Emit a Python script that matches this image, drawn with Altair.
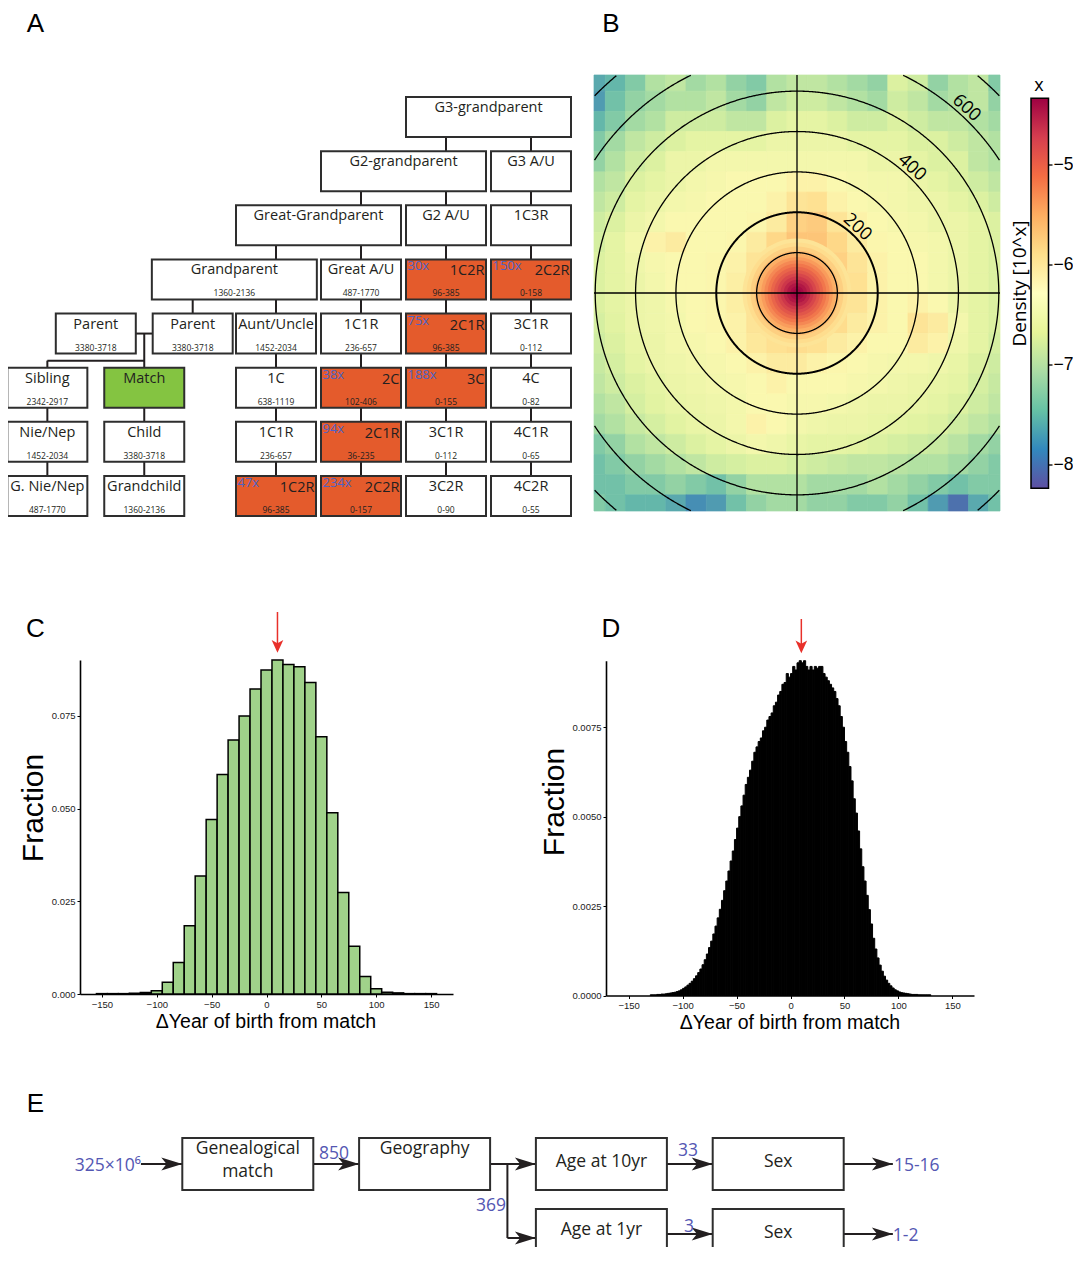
import math
import pandas as pd
import altair as alt

W, H = 1065, 1239
SANS = "Open Sans"
HELV = "Liberation Sans"
INK = "#231f20"
BOXLINE = "#2e2e2e"
BLUE_A = "#4d62c3"
BLUE_E = "#5457b3"
ORANGE = "#e45b2c"
GREEN = "#84c441"
RED = "#e8302a"
BARGREEN = "#a0d28a"
# Vega "spectral" scheme, low -> high after reversing
SPECTRAL_REV = ["#5e4fa2", "#3288bd", "#66c2a5", "#abdda4", "#e6f598", "#ffffbf",
                "#fee08b", "#fdae61", "#f46d43", "#d53e4f", "#9e0142"]

# ======================= Panel A : relationship tree =======================
A_name = ["G3-grandparent", "G2-grandparent", "G3 A/U",
          "Great-Grandparent", "G2 A/U", "1C3R",
          "Grandparent", "Great A/U", "1C2R", "2C2R",
          "Parent", "Parent", "Aunt/Uncle", "1C1R", "2C1R", "3C1R",
          "Sibling", "Match", "1C", "2C", "3C", "4C",
          "Nie/Nep", "Child", "1C1R", "2C1R", "3C1R", "4C1R",
          "G. Nie/Nep", "Grandchild", "1C2R", "2C2R", "3C2R", "4C2R"]
A_range = ["", "", "",
           "", "", "",
           "1360-2136", "487-1770", "96-385", "0-158",
           "3380-3718", "3380-3718", "1452-2034", "236-657", "96-385", "0-112",
           "2342-2917", "", "638-1119", "102-406", "0-155", "0-82",
           "1452-2034", "3380-3718", "236-657", "36-235", "0-112", "0-65",
           "487-1770", "1360-2136", "96-385", "0-157", "0-90", "0-55"]
A_fold = ["", "", "",
          "", "", "",
          "", "", "30x", "150x",
          "", "", "", "", "75x", "",
          "", "", "", "38x", "188x", "",
          "", "", "", "94x", "", "",
          "", "", "47x", "234x", "", ""]
A_row = [0, 1, 1, 2, 2, 2, 3, 3, 3, 3, 4, 4, 4, 4, 4, 4,
         5, 5, 5, 5, 5, 5, 6, 6, 6, 6, 6, 6, 7, 7, 7, 7, 7, 7]
A_col = [2, 1, 3, 0, 2, 3, -0.99, 1, 2, 3, -2.12, -0.98, 0, 1, 2, 3,
         -2.69, -1.55, 0, 1, 2, 3, -2.69, -1.55, 0, 1, 2, 3, -2.69, -1.55, 0, 1, 2, 3]
A_span = [2, 2, 1, 2, 1, 1, 2, 1, 1, 1, 1, 1, 1, 1, 1, 1,
          1, 1, 1, 1, 1, 1, 1, 1, 1, 1, 1, 1, 1, 1, 1, 1, 1, 1]
A_link_row = [0, 0, 1, 1, 1, 2, 2, 2, 2, 3, 3, 3, 3, 3, 4, 4, 4, 4,
              5, 5, 5, 5, 5, 5, 6, 6, 6, 6, 6, 6]
A_link_col = [2, 3, 1, 2, 3, 0, 1, 2, 3, -0.98, 0, 1, 2, 3, 0, 1, 2, 3,
              -2.69, -1.55, 0, 1, 2, 3, -2.69, -1.55, 0, 1, 2, 3]

A_COL_PX, A_ROW_PX = 85.0, 54.14
A_X0, A_Y0 = 228.0, 89.0
gw = 80.0 / A_COL_PX
gh = 40.0 / A_ROW_PX
xA = alt.Scale(domain=[-3, 4], range=[A_X0 - 3 * A_COL_PX, A_X0 + 4 * A_COL_PX])
yA = alt.Scale(domain=[0, 8], range=[A_Y0, A_Y0 + 8 * A_ROW_PX])

a = pd.DataFrame({"name": A_name, "rng": A_range, "fold": A_fold,
                  "row": A_row, "col": A_col, "span": A_span})
a["x1"] = a["col"]
a["x2"] = a["col"] + a["span"] - 1 + gw
a["y1"] = a["row"]
a["y2"] = a["row"] + gh
a["xc"] = (a["x1"] + a["x2"]) / 2
a["fill"] = [GREEN if n == "Match" else (ORANGE if f else "white") for n, f in zip(A_name, A_fold)]

segs = []
for c, r in zip(A_link_col, A_link_row):
    xc = c + gw / 2
    segs.append((xc, r + gh, xc, r + 1))
p1, p2, sib, mat = a.iloc[10], a.iloc[11], a.iloc[16], a.iloc[17]
ym = 4 + gh / 2
yd = (4 + gh + 5) / 2
segs += [(p1.x2, ym, p2.x1, ym), (mat.xc, ym, mat.xc, 5),
         (sib.xc, yd, mat.xc, yd), (sib.xc, yd, sib.xc, 5)]
a_links = pd.DataFrame(segs, columns=["x1", "y1", "x2", "y2"])

def XA(f):
    return alt.X(f + ":Q", scale=xA, axis=None)

def YA(f):
    return alt.Y(f + ":Q", scale=yA, axis=None)

A_layer = alt.layer(
    alt.Chart(a_links).mark_rule(color=INK, strokeWidth=2).encode(
        x=XA("x1"), y=YA("y1"), x2="x2:Q", y2="y2:Q"),
    alt.Chart(a).mark_rect(stroke=BOXLINE, strokeWidth=2).encode(
        x=XA("x1"), x2="x2:Q", y=YA("y1"), y2="y2:Q",
        color=alt.Color("fill:N", scale=None)),
    alt.Chart(a[a["fold"] == ""]).mark_text(font=SANS, fontSize=14.5, dy=15,
                                          baseline="alphabetic", color=INK).encode(
        x=XA("xc"), y=YA("y1"), text="name:N"),
    alt.Chart(a[a["fold"] != ""]).mark_text(font=SANS, fontSize=14.5, dy=16, dx=-1.5, align="right",
                                          baseline="alphabetic", color=INK).encode(
        x=XA("x2"), y=YA("y1"), text="name:N"),
    alt.Chart(a[a["fold"] != ""]).mark_text(font=SANS, fontSize=13, dy=11, dx=1.5, align="left",
                                          baseline="alphabetic", color=BLUE_A).encode(
        x=XA("x1"), y=YA("y1"), text="fold:N"),
    alt.Chart(a[a["rng"] != ""]).mark_text(font=SANS, fontSize=8.5, dy=37,
                                         baseline="alphabetic", color=INK).encode(
        x=XA("xc"), y=YA("y1"), text="rng:N"),
)

# ======================= Panel B : density map =======================
B_cx = [-500, -450, -400, -350, -300, -250, -200, -150, -100, -50, 0,
        50, 100, 150, 200, 250, 300, 350, 400, 450, 500]
B_cy = [525, 475, 425, 375, 325, 275, 225, 175, 125, 75, 25,
        -25, -75, -125, -175, -225, -275, -325, -375, -425, -475, -525]
B_density = [
    [-7.6, -7.5, -7.3, -7.0, -6.9, -7.1, -7.0, -7.2, -7.3, -7.0, -6.9, -6.9, -7.0, -7.1, -7.2, -6.7, -6.8, -7.2, -7.0, -6.9, -7.3],
    [-7.7, -7.4, -7.2, -7.1, -7.0, -7.0, -6.9, -7.1, -7.2, -6.9, -6.8, -6.8, -6.9, -7.0, -7.1, -6.8, -6.9, -7.1, -7.0, -6.9, -7.2],
    [-7.5, -7.3, -7.1, -7.0, -6.8, -6.8, -6.8, -6.9, -6.9, -6.7, -6.6, -6.6, -6.7, -6.8, -6.8, -6.7, -6.8, -6.9, -6.9, -7.0, -7.1],
    [-7.3, -7.1, -6.9, -6.8, -6.7, -6.6, -6.6, -6.6, -6.6, -6.5, -6.5, -6.5, -6.5, -6.6, -6.6, -6.6, -6.7, -6.7, -6.8, -6.9, -7.0],
    [-7.2, -7.0, -6.8, -6.7, -6.5, -6.5, -6.4, -6.4, -6.4, -6.4, -6.4, -6.4, -6.4, -6.4, -6.5, -6.5, -6.6, -6.7, -6.7, -6.9, -7.0],
    [-7.0, -6.9, -6.7, -6.6, -6.5, -6.4, -6.35, -6.3, -6.3, -6.3, -6.2, -6.2, -6.3, -6.35, -6.4, -6.4, -6.5, -6.6, -6.7, -6.8, -6.9],
    [-6.9, -6.8, -6.6, -6.5, -6.4, -6.35, -6.3, -6.3, -6.3, -6.2, -6.0, -5.95, -6.2, -6.3, -6.35, -6.4, -6.45, -6.5, -6.6, -6.7, -6.8],
    [-6.8, -6.7, -6.5, -6.4, -6.3, -6.3, -6.3, -6.3, -6.25, -6.1, -5.8, -5.75, -6.0, -6.2, -6.3, -6.35, -6.4, -6.5, -6.5, -6.6, -6.7],
    [-6.75, -6.6, -6.4, -6.2, -6.1, -6.3, -6.3, -6.25, -6.1, -5.85, -5.7, -5.7, -5.85, -6.1, -6.25, -6.3, -6.35, -6.4, -6.5, -6.6, -6.7],
    [-6.7, -6.6, -6.45, -6.35, -6.3, -6.3, -6.25, -6.2, -6.0, -5.7, -5.6, -5.6, -5.8, -6.0, -6.2, -6.3, -6.3, -6.4, -6.5, -6.6, -6.7],
    [-6.7, -6.6, -6.5, -6.4, -6.3, -6.3, -6.25, -6.15, -5.9, -5.6, -5.5, -5.5, -5.7, -5.95, -6.2, -6.3, -6.3, -6.4, -6.5, -6.6, -6.7],
    [-6.7, -6.6, -6.5, -6.45, -6.35, -6.3, -6.25, -6.15, -5.9, -5.6, -5.5, -5.5, -5.75, -6.0, -6.2, -6.3, -6.2, -6.3, -6.5, -6.6, -6.7],
    [-6.75, -6.65, -6.5, -6.45, -6.4, -6.3, -6.25, -6.2, -6.0, -5.75, -5.6, -5.7, -5.9, -6.1, -6.2, -6.3, -6.0, -6.1, -6.4, -6.6, -6.7],
    [-6.8, -6.7, -6.55, -6.5, -6.4, -6.35, -6.3, -6.2, -6.05, -5.95, -5.9, -5.95, -6.1, -6.2, -6.3, -6.3, -6.1, -6.2, -6.45, -6.6, -6.75],
    [-6.85, -6.75, -6.6, -6.5, -6.45, -6.4, -6.35, -6.3, -6.2, -6.1, -6.1, -6.2, -6.25, -6.3, -6.35, -6.4, -6.4, -6.45, -6.55, -6.7, -6.8],
    [-6.9, -6.8, -6.7, -6.6, -6.5, -6.45, -6.4, -6.35, -6.3, -6.2, -6.3, -6.3, -6.3, -6.35, -6.4, -6.45, -6.5, -6.55, -6.6, -6.75, -6.85],
    [-7.0, -6.9, -6.75, -6.65, -6.55, -6.5, -6.45, -6.4, -6.3, -6.3, -6.35, -6.35, -6.4, -6.45, -6.5, -6.5, -6.55, -6.6, -6.7, -6.8, -6.9],
    [-7.1, -7.0, -6.85, -6.75, -6.65, -6.55, -6.5, -6.4, -6.2, -6.3, -6.4, -6.45, -6.5, -6.5, -6.55, -6.6, -6.65, -6.7, -6.8, -6.9, -7.0],
    [-7.3, -7.2, -7.0, -6.9, -6.8, -6.7, -6.6, -6.5, -6.4, -6.45, -6.55, -6.6, -6.6, -6.65, -6.7, -6.75, -6.8, -6.85, -6.95, -7.1, -7.2],
    [-7.4, -7.3, -7.2, -7.1, -7.0, -6.9, -6.8, -6.75, -6.7, -6.7, -6.75, -6.8, -6.85, -6.9, -6.9, -6.95, -7.0, -7.0, -7.1, -7.2, -7.3],
    [-7.4, -7.4, -7.3, -7.3, -7.2, -7.3, -7.4, -7.2, -7.0, -7.0, -7.0, -7.1, -7.1, -7.1, -7.0, -7.1, -7.2, -7.3, -7.4, -7.3, -7.3],
    [-7.3, -7.4, -7.5, -7.5, -7.6, -7.8, -7.7, -7.4, -7.2, -7.1, -7.1, -7.2, -7.2, -7.3, -7.3, -7.2, -7.4, -7.7, -8.0, -7.6, -7.4],
]
# radial profile of the central peak (radius in years, log10 density)
B_core_r = [135, 125, 115, 105, 97, 89, 81, 73, 65, 57, 49, 41, 33, 25, 17, 10]
B_core_v = [-6.0, -5.9, -5.78, -5.64, -5.52, -5.4, -5.27, -5.15, -5.03, -4.92, -4.8, -4.69, -4.58, -4.48, -4.4, -4.35]
B_ring_r = [100, 200, 300, 400, 500, 600, 700]
B_ring_label = ["200", "400", "600"]
B_cbar_ticks = [-8, -7, -6, -5]
B_cbar_text = ["−8", "−7", "−6", "−5"]
B_cbar_lim = [-8.233, -4.333]

BX0, BX1, BY0, BY1 = -503, 503, -540, 540
xB = alt.Scale(domain=[BX0, BX1], range=[586, 992])
yB = alt.Scale(domain=[BY0, BY1], range=[503, 67])
B_PX = 406.0 / (BX1 - BX0)
cB = alt.Scale(scheme="spectral", reverse=True, domain=B_cbar_lim)

cells = []
for i, cy in enumerate(B_cy):
    assert len(B_density[i]) == len(B_cx)
    for j, cx in enumerate(B_cx):
        cells.append(dict(x1=max(cx - 25, BX0), x2=min(cx + 25, BX1),
                          y1=max(cy - 25, BY0), y2=min(cy + 25, BY1), v=B_density[i][j]))
cells = pd.DataFrame(cells)
core = pd.DataFrame({"r": B_core_r, "v": B_core_v, "x": 0, "y": 0})

ring_pts = []
for r in B_ring_r:
    seg, prev = 0, False
    for k in range(0, 1441):
        t = math.radians(k * 0.25)
        x, y = r * math.cos(t), r * math.sin(t)
        ins = (BX0 <= x <= BX1) and (BY0 <= y <= BY1)
        if ins:
            if not prev:
                seg += 1
            ring_pts.append(dict(r=r, seg=f"{r}-{seg}", k=k, x=x, y=y))
        prev = ins
ring_pts = pd.DataFrame(ring_pts)
cross = pd.DataFrame([dict(x1=0, x2=0, y1=BY0, y2=BY1), dict(x1=BX0, x2=BX1, y1=0, y2=0)])
LAB_ANG = math.radians(47.5)
ring_lab = pd.DataFrame({"t": B_ring_label})
ring_lab["rr"] = ring_lab["t"].astype(float) + 21
ring_lab["x"] = ring_lab["rr"] * math.cos(LAB_ANG)
ring_lab["y"] = ring_lab["rr"] * math.sin(LAB_ANG)

def XB(f):
    return alt.X(f + ":Q", scale=xB, axis=None)

def YB(f):
    return alt.Y(f + ":Q", scale=yB, axis=None)

B_layer = alt.layer(
    alt.Chart(cells).mark_rect(strokeWidth=0.7).encode(
        x=XB("x1"), x2="x2:Q", y=YB("y1"), y2="y2:Q",
        color=alt.Color("v:Q", scale=cB, legend=None),
        stroke=alt.Stroke("v:Q", scale=cB, legend=None)),
    alt.Chart(core).mark_circle(opacity=1).encode(
        x=XB("x"), y=YB("y"),
        size=alt.Size("r:Q", scale=alt.Scale(type="pow", exponent=2, domain=[0, 100],
                                             range=[0, (2 * 100 * B_PX) ** 2]), legend=None),
        color=alt.Color("v:Q", scale=cB, legend=None),
        order=alt.Order("r:Q", sort="descending")),
    alt.Chart(ring_pts[ring_pts["r"] != 200]).mark_line(color="black", strokeWidth=1.3).encode(
        x=XB("x"), y=YB("y"), detail="seg:N", order="k:Q"),
    alt.Chart(ring_pts[ring_pts["r"] == 200]).mark_line(color="black", strokeWidth=2.0).encode(
        x=XB("x"), y=YB("y"), detail="seg:N", order="k:Q"),
    alt.Chart(cross).mark_rule(color="black", strokeWidth=1.3).encode(
        x=XB("x1"), x2="x2:Q", y=YB("y1"), y2="y2:Q"),
    alt.Chart(ring_lab).mark_text(font=SANS, fontSize=18, angle=42.5, baseline="middle",
                                  color="black").encode(x=XB("x"), y=YB("y"), text="t:N"),
)

# colour bar drawn on its own value axis
ycb = alt.Scale(domain=B_cbar_lim, range=[480.3, 90.3])
cbar_grad = alt.LinearGradient(
    gradient="linear", x1=0, y1=1, x2=0, y2=0,
    stops=[alt.GradientStop(color=c, offset=i / (len(SPECTRAL_REV) - 1))
           for i, c in enumerate(SPECTRAL_REV)])
cbar_box = pd.DataFrame({"lo": [B_cbar_lim[0]], "hi": [B_cbar_lim[1]]})
cbar_tk = pd.DataFrame({"t": B_cbar_ticks, "lab": B_cbar_text})
Bbar_layer = alt.layer(
    alt.Chart(cbar_box).mark_rect(fill=cbar_grad, stroke="black", strokeWidth=1.5).encode(
        x=alt.value(1023), x2=alt.value(1040.5),
        y=alt.Y("lo:Q", scale=ycb, axis=None), y2="hi:Q"),
    alt.Chart(cbar_tk).mark_rule(color="black", strokeWidth=1.3).encode(
        x=alt.value(1040.5), x2=alt.value(1044.5),
        y=alt.Y("t:Q", scale=ycb, axis=None)),
    alt.Chart(cbar_tk).mark_text(font=HELV, fontSize=17.5, align="left", baseline="middle",
                                 color="black").encode(
        x=alt.value(1045.5), y=alt.Y("t:Q", scale=ycb, axis=None), text="lab:N"),
)

# ======================= Panel C : 10-year histogram =======================
C_center = [-150, -140, -130, -120, -110, -100, -90, -80, -70, -60, -50, -40, -30, -20, -10,
            0, 10, 20, 30, 40, 50, 60, 70, 80, 90, 100, 110, 120, 130, 140, 150]
C_frac = [0.0001, 0.0001, 0.0001, 0.0002, 0.0004, 0.0009, 0.0032, 0.0085, 0.0184, 0.0318,
          0.0471, 0.0592, 0.0685, 0.0750, 0.0823, 0.0874, 0.0901, 0.0889, 0.0883, 0.0840,
          0.0694, 0.0489, 0.0274, 0.0129, 0.0047, 0.0014, 0.0005, 0.0003, 0.0001, 0.0001, 0.0001]
C_xticks = [-150, -100, -50, 0, 50, 100, 150]
C_yticks = [0, 0.025, 0.05, 0.075]
C_arrow = [10]

xC = alt.Scale(domain=[-170, 170], range=[72, 445])
yC = alt.Scale(domain=[0, 0.0901], range=[986, 652])

def x_axis(off, vals):
    return alt.Axis(orient="bottom", offset=off, values=vals, title=None, grid=False,
                    domainColor="black", domainWidth=1.6, tickColor="black", tickSize=3,
                    tickWidth=1, labelFont=HELV, labelFontSize=9.5, labelColor="#222",
                    labelPadding=2)

def y_axis(off, vals, fmt):
    return alt.Axis(orient="left", offset=off, values=vals, format=fmt, title=None, grid=False,
                    domainColor="black", domainWidth=1.6, tickColor="black", tickSize=3,
                    tickWidth=1, labelFont=HELV, labelFontSize=9.5, labelColor="#222",
                    labelPadding=2)

axCx = x_axis(986 - H, C_xticks)
axCy = y_axis(-72, C_yticks, ".3f")
cdf = pd.DataFrame({"c": C_center, "f": C_frac})
cdf["x1"] = cdf["c"] - 5
cdf["x2"] = cdf["c"] + 5
cdf["y0"] = 0.0

ARROW_DOWN = "M0,1L-0.92,-1L0,-0.5L0.92,-1Z"
C_layer = alt.layer(
    alt.Chart(cdf).mark_rect(fill=BARGREEN, stroke="black", strokeWidth=1.5).encode(
        x=alt.X("x1:Q", scale=xC, axis=axCx), x2="x2:Q",
        y=alt.Y("f:Q", scale=yC, axis=axCy), y2="y0:Q"),
    alt.Chart(pd.DataFrame({"x": C_arrow})).mark_rule(color=RED, strokeWidth=1.5).encode(
        x=alt.X("x:Q", scale=xC, axis=axCx), y=alt.value(604), y2=alt.value(640)),
    alt.Chart(pd.DataFrame({"x": C_arrow})).mark_point(
        shape=ARROW_DOWN, filled=True, color=RED, opacity=1, size=161).encode(
        x=alt.X("x:Q", scale=xC, axis=axCx), y=alt.value(638.3)),
)

# ======================= Panel D : 2-year histogram =======================
D_start = list(range(-130, 130, 2))
D_frac = [0.00002, 0.00002, 0.00002, 0.00003, 0.00003, 0.00004, 0.00004, 0.00005, 0.00006, 0.00007,
          0.00008, 0.00009, 0.00011, 0.00013, 0.00016, 0.0002,
          0.00024, 0.00029, 0.00034, 0.0004, 0.00047, 0.00055, 0.00064, 0.00074, 0.00086, 0.001,
          0.00116, 0.00134, 0.00152, 0.00172, 0.00194, 0.00217, 0.00241, 0.00266, 0.00293, 0.0032,
          0.00348, 0.00376, 0.00404, 0.00436, 0.00468,
          0.005, 0.0053, 0.0056, 0.0059, 0.0061, 0.0063, 0.00655, 0.0068, 0.00695, 0.0071,
          0.0072, 0.0074, 0.0075, 0.0077, 0.0078, 0.0079, 0.0081, 0.0082, 0.0084, 0.0085,
          0.0087, 0.00875, 0.009, 0.0089, 0.009,
          0.0092, 0.0091, 0.0093, 0.00936, 0.0093, 0.00936, 0.0092, 0.0091, 0.0092, 0.0091,
          0.0092, 0.00915, 0.0092, 0.0092, 0.009, 0.0089, 0.0088, 0.0087, 0.0086, 0.0085,
          0.0083, 0.0081, 0.0078, 0.0075, 0.0071,
          0.0068, 0.0064, 0.006, 0.0055, 0.0051, 0.0046, 0.0041, 0.0036, 0.0032, 0.0028,
          0.0024, 0.002, 0.0016, 0.0013, 0.00105, 0.00085, 0.00068, 0.00054, 0.00043, 0.00034,
          0.00027, 0.00021, 0.00016, 0.00013, 0.0001,
          0.00008, 0.00007, 0.00006, 0.00005, 0.00004, 0.00003, 0.00003, 0.00003, 0.00002,
          0.00002, 0.00002, 0.00002, 0.00002, 0.00002]
assert len(D_start) == len(D_frac)
D_yticks = [0, 0.0025, 0.005, 0.0075]
D_arrow = [10]

xD = alt.Scale(domain=[-171, 170], range=[598, 966])
yD = alt.Scale(domain=[0, 0.00936], range=[987.5, 652.7])
axDx = x_axis(987.5 - H, C_xticks)
axDy = y_axis(-598, D_yticks, ".4f")
ddf = pd.DataFrame({"s": D_start, "f": D_frac})
ddf["x2"] = ddf["s"] + 2
ddf["y0"] = 0.0

D_layer = alt.layer(
    alt.Chart(ddf).mark_rect(fill="black", stroke="black", strokeWidth=1.0).encode(
        x=alt.X("s:Q", scale=xD, axis=axDx), x2="x2:Q",
        y=alt.Y("f:Q", scale=yD, axis=axDy), y2="y0:Q"),
    alt.Chart(pd.DataFrame({"x": D_arrow})).mark_rule(color=RED, strokeWidth=1.5).encode(
        x=alt.X("x:Q", scale=xD, axis=axDx), y=alt.value(611), y2=alt.value(640)),
    alt.Chart(pd.DataFrame({"x": D_arrow})).mark_point(
        shape=ARROW_DOWN, filled=True, color=RED, opacity=1, size=161).encode(
        x=alt.X("x:Q", scale=xD, axis=axDx), y=alt.value(638.8)),
)

# ======================= Panel E : filtering flowchart =======================
E_name = ["Genealogical\nmatch", "Geography", "Age at 10yr", "Sex", "Age at 1yr", "Sex"]
E_col = [0, 1, 2, 3, 2, 3]
E_row = [0, 0, 0, 0, 1, 1]
E_text_dy = [16, 16, 29, 29, 26, 29]
E_num = ["325×10⁶", "850", "369", "33", "3", "15-16", "1-2"]
E_num_x = [-0.234, 0.773, 1.831, 2.804, 2.838, 4.025, 4.019]
E_num_y = [0.465, 0.296, 1.028, 0.254, 1.324, 0.465, 1.451]
E_num_align = ["right", "left", "right", "left", "left", "left", "left"]

E_COL_PX, E_ROW_PX = 176.8, 71.0
xE = alt.Scale(domain=[-1, 5], range=[174.3 - E_COL_PX, 174.3 + 5 * E_COL_PX])
yE = alt.Scale(domain=[0, 1], range=[1130, 1130 + E_ROW_PX])
EW = 131 / E_COL_PX
EH = 52 / E_ROW_PX

e = pd.DataFrame({"name": E_name, "col": E_col, "row": E_row, "dy": E_text_dy})
e["x1"] = e["col"]
e["x2"] = e["col"] + EW
e["y1"] = e["row"]
e["y2"] = e["row"] + EH
e["xc"] = e["col"] + EW / 2
e["ty"] = e["row"] + e["dy"] / E_ROW_PX

ym0 = 26 / E_ROW_PX
ym1a = 100 / E_ROW_PX
ym1b = 96 / E_ROW_PX
bx = 1 + EW + 17.3 / E_COL_PX
out_x = E_num_x[6]
e_lines = pd.DataFrame([
    (E_num_x[0], ym0, 0, ym0), (EW, ym0, 1, ym0), (1 + EW, ym0, 2, ym0),
    (bx, ym0, bx, ym1a), (bx, ym1a, 2, ym1a),
    (2 + EW, ym0, 3, ym0), (2 + EW, ym1b, 3, ym1b),
    (3 + EW, ym0, out_x, ym0), (3 + EW, ym1b, out_x, ym1b)],
    columns=["x1", "y1", "x2", "y2"])
HEAD_LEN = 21.0
e_heads = pd.DataFrame([(0, ym0), (1, ym0), (2, ym0), (2, ym1a), (3, ym0), (3, ym1b),
                        (out_x, ym0), (out_x, ym1b)], columns=["tip", "y"])
e_heads["x"] = e_heads["tip"] - (HEAD_LEN / 2) / E_COL_PX
enum = pd.DataFrame({"t": E_num, "x": E_num_x, "y": E_num_y, "al": E_num_align})
ARROW_RIGHT = "M1,0L-1,-0.62L-0.5,0L-1,0.62Z"

def XE(f):
    return alt.X(f + ":Q", scale=xE, axis=None)

def YE(f):
    return alt.Y(f + ":Q", scale=yE, axis=None)

E_layer = alt.layer(
    alt.Chart(e_lines).mark_rule(color=INK, strokeWidth=2).encode(
        x=XE("x1"), y=YE("y1"), x2="x2:Q", y2="y2:Q"),
    alt.Chart(e_heads).mark_point(shape=ARROW_RIGHT, filled=True, color=INK, opacity=1,
                                  size=HEAD_LEN ** 2).encode(x=XE("x"), y=YE("y")),
    alt.Chart(e).mark_rect(fill="white", stroke=BOXLINE, strokeWidth=2).encode(
        x=XE("x1"), x2="x2:Q", y=YE("y1"), y2="y2:Q"),
    alt.Chart(e).mark_text(font=SANS, fontSize=17.5, lineBreak="\n", lineHeight=23,
                           baseline="alphabetic", color=INK).encode(
        x=XE("xc"), y=YE("ty"), text="name:N"),
    alt.Chart(enum[enum["al"] == "right"]).mark_text(font=SANS, fontSize=17.5, align="right",
                                                     baseline="alphabetic", color=BLUE_E).encode(
        x=XE("x"), y=YE("y"), text="t:N"),
    alt.Chart(enum[enum["al"] == "left"]).mark_text(font=SANS, fontSize=17.5, align="left",
                                                    baseline="alphabetic", color=BLUE_E).encode(
        x=XE("x"), y=YE("y"), text="t:N"),
)

# ======================= annotations (letters, titles) =======================
one = alt.Data(values=[{}])
notes = []
for txt, px, py in [("A", 27.5, 24), ("B", 603, 24), ("C", 27.5, 629), ("D", 603, 629), ("E", 27.5, 1104)]:
    notes.append(alt.Chart(one).mark_text(font=HELV, fontSize=26, color="black",
                                          baseline="alphabetic").encode(
        x=alt.value(px), y=alt.value(py), text=alt.value(txt)))
for px, py in [(25.5, 800), (546.5, 794)]:
    notes.append(alt.Chart(one).mark_text(font=HELV, fontSize=30, angle=270, baseline="middle",
                                          color="black").encode(
        x=alt.value(px), y=alt.value(py), text=alt.value("Fraction")))
for px, py in [(258, 1020), (782, 1021)]:
    notes.append(alt.Chart(one).mark_text(font=HELV, fontSize=19.5, baseline="alphabetic",
                                          color="black").encode(
        x=alt.value(px), y=alt.value(py), text=alt.value("ΔYear of birth from match")))
notes.append(alt.Chart(one).mark_text(font=SANS, fontSize=18, baseline="middle", color="black").encode(
    x=alt.value(1031), y=alt.value(78), text=alt.value("x")))
notes.append(alt.Chart(one).mark_text(font=SANS, fontSize=19, angle=270, baseline="middle",
                                      color="black").encode(
    x=alt.value(1012), y=alt.value(275.5), text=alt.value("Density [10^x]")))
N_layer = alt.layer(*notes)

chart = alt.layer(A_layer, B_layer, Bbar_layer, C_layer, D_layer, E_layer, N_layer).resolve_scale(
    x="independent", y="independent", color="independent", size="independent",
    stroke="independent").resolve_axis(x="independent", y="independent").properties(
    width=W, height=H, padding=0, autosize=alt.AutoSizeParams(type="none"),
    background="white").configure_view(strokeWidth=0)

chart.save("out.html", embed_options={"renderer": "svg", "actions": False})
